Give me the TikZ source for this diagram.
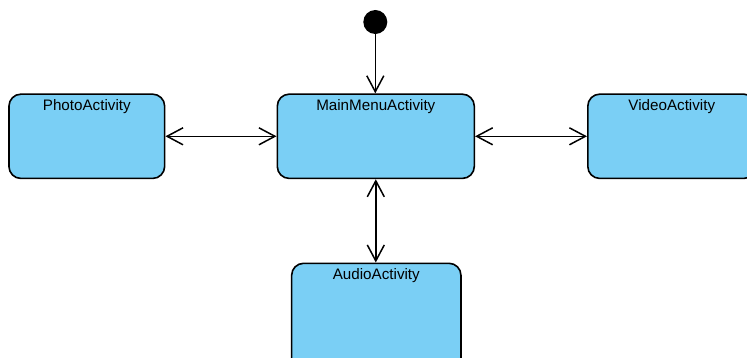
\documentclass[tikz,border=0pt]{standalone}
\usepackage{fontspec}
\setmainfont{Liberation Sans}
\usetikzlibrary{arrows.meta}
\definecolor{stfill}{HTML}{7ACFF5}
\tikzset{
  state/.style={draw=black, fill=stfill, rounded corners=12pt, line width=1.6pt, inner sep=0pt},
  stname/.style={anchor=base, font=\fontsize{15.2pt}{18pt}\selectfont, inner sep=0pt},
  conn/.style={line width=1.5pt, arrows={Straight Barb[length=16pt,width=17pt,line width=1.5pt]-Straight Barb[length=16pt,width=17pt,line width=1.5pt]}},
  oneway/.style={line width=1.5pt, -{Straight Barb[length=16pt,width=17pt,line width=1.5pt]}}
}
\begin{document}
\begin{tikzpicture}[x=1pt,y=-1pt]
\useasboundingbox (0,0) rectangle (747,358);
\clip (0,0) rectangle (747,358);
\node[state, minimum width=197pt, minimum height=84.3pt] (main) at (375.8,136.3) {};
\node[state, minimum width=155.7pt, minimum height=84.3pt] (photo) at (86.8,136.3) {};
\node[state, minimum width=168pt, minimum height=84.3pt] (video) at (671.8,136.3) {};
\node[state, minimum width=169.3pt, minimum height=110pt] (audio) at (376.3,318.3) {};
\node[circle, fill=black, minimum size=24pt, inner sep=0pt] (init) at (375.3,22) {};
\node[stname] (mainT) at ([yshift=-17pt]main.north) {MainMenuActivity};
\node[stname] (photoT) at ([yshift=-17pt]photo.north) {PhotoActivity};
\node[stname] (videoT) at ([yshift=-17pt]video.north) {VideoActivity};
\node[stname] (audioT) at ([yshift=-17pt]audio.north) {AudioActivity};
\draw[oneway] (init.center) -- (init.center |- main.north);
\draw[conn] (photo.east) -- (main.west);
\draw[conn] (main.east) -- (video.west);
\draw[conn] (main.south) -- (audio.north -| main.south);
\end{tikzpicture}
\end{document}
